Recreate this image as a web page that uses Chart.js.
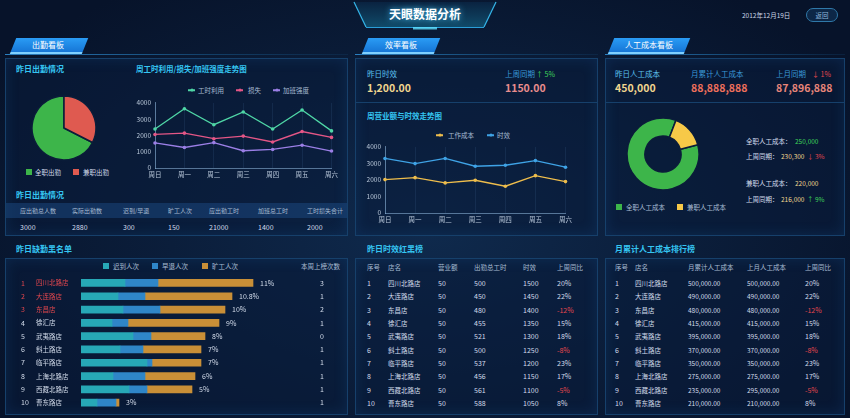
<!DOCTYPE html>
<html><head><meta charset="utf-8">
<script src="https://cdn.jsdelivr.net/npm/chart.js@4/dist/chart.umd.min.js"></script>
<style>
html,body{margin:0;padding:0;}
body{width:850px;height:418px;overflow:hidden;position:relative;font-family:'Noto Sans CJK SC','Noto Sans',sans-serif;background:#07132a;}
#bg{position:absolute;left:0;top:0;width:850px;height:418px;background:radial-gradient(ellipse 60% 70% at 50% 55%, #0f2a4d 0%, #0b1e3b 50%, #07132a 100%);}
.t{position:absolute;white-space:nowrap;transform:translateY(-50%);line-height:1;}
.panel{position:absolute;border:1px solid #16406b;background:rgba(9,28,58,0.55);box-shadow:inset 0 0 14px rgba(30,110,190,0.18);box-sizing:border-box;}
.tab{position:absolute;height:14px;background:linear-gradient(180deg,#2a9cf5,#1676d6);transform:skewX(-22deg);border-bottom:2px solid #7fd0ff;}
.tabtxt{position:absolute;color:#fff;font-size:8px;transform:translate(-50%,-50%);white-space:nowrap;line-height:1;}
.secline{position:absolute;height:1px;background:linear-gradient(90deg,#2a7fc0,#123e66 60%,rgba(18,62,102,0.3));}
canvas{position:absolute;}
.sq{position:absolute;width:6px;height:6px;transform:translateY(-50%);}
.lg{position:absolute;width:7px;height:1.5px;transform:translateY(-50%);}
.dot{position:absolute;width:3px;height:3px;border-radius:50%;transform:translate(-50%,-50%);}
</style>
</head><body>
<div id="bg"></div>
<svg width="850" height="60" style="position:absolute;left:0;top:0">
<defs>
<linearGradient id="gl" x1="0" x2="1"><stop offset="0" stop-color="#1f8fd0" stop-opacity="0"/><stop offset="1" stop-color="#3cc4f5"/></linearGradient>
<linearGradient id="gr" x1="0" x2="1"><stop offset="0" stop-color="#3cc4f5"/><stop offset="1" stop-color="#1f8fd0" stop-opacity="0"/></linearGradient>
<linearGradient id="gt" x1="0" y1="0" x2="0" y2="1"><stop offset="0" stop-color="#0a2442"/><stop offset="1" stop-color="#11506f"/></linearGradient>
</defs>
<line x1="10" y1="27.5" x2="360" y2="27.5" stroke="url(#gl)" stroke-width="1.5"/>
<line x1="490" y1="27.5" x2="840" y2="27.5" stroke="url(#gr)" stroke-width="1.5"/>
<polygon points="354,2 366,27 484,27 496,2" fill="url(#gt)" opacity="0.9"/>
<line x1="354" y1="2" x2="366" y2="27" stroke="#35b6ea" stroke-width="1.2"/>
<line x1="496" y1="2" x2="484" y2="27" stroke="#35b6ea" stroke-width="1.2"/>
<line x1="366" y1="27.5" x2="484" y2="27.5" stroke="#2a9ed8" stroke-width="1"/>
<rect x="413" y="27" width="24" height="2.5" fill="#5fe0ff" opacity="0.8"/>
</svg>
<div class="t" style="left:425px;top:14px;transform:translate(-50%,-50%);color:#fff;font-size:12px;font-weight:bold;text-shadow:0 0 6px #4cc8ff;">天眼数据分析</div>
<div class="t" style="left:742px;top:15px;color:#c9d6e6;font-size:6.5px;">2012年12月19日</div>
<div style="position:absolute;left:806px;top:8px;width:32px;height:14px;border:1px solid #2f78a8;border-radius:8px;box-sizing:border-box;background:rgba(20,60,100,0.5);"></div>
<div class="t" style="left:822px;top:15px;transform:translate(-50%,-50%);color:#8fb8dc;font-size:6.5px;">返回</div>

<!-- tabs -->
<div class="tab" style="left:13px;top:38px;width:72px;"></div>
<div class="tabtxt" style="left:48px;top:45px;">出勤看板</div>
<div class="secline" style="left:5px;top:54px;width:343px;"></div>
<div class="tab" style="left:365px;top:38px;width:72px;"></div>
<div class="tabtxt" style="left:401px;top:45px;">效率看板</div>
<div class="secline" style="left:355px;top:54px;width:243px;"></div>
<div class="tab" style="left:611px;top:38px;width:76px;"></div>
<div class="tabtxt" style="left:649px;top:45px;">人工成本看板</div>
<div class="secline" style="left:605px;top:54px;width:240px;"></div>

<!-- panels -->
<div class="panel" style="left:5px;top:58px;width:343px;height:178px;"></div>
<div class="panel" style="left:5px;top:258px;width:343px;height:157px;"></div>
<div class="panel" style="left:355px;top:58px;width:243px;height:178px;"></div>
<div class="panel" style="left:355px;top:258px;width:243px;height:157px;"></div>
<div class="panel" style="left:605px;top:58px;width:240px;height:178px;"></div>
<div class="panel" style="left:605px;top:258px;width:240px;height:157px;"></div>
<div style="position:absolute;left:356px;top:102px;width:241px;height:1px;background:#16406b;"></div>
<div style="position:absolute;left:606px;top:102px;width:238px;height:1px;background:#16406b;"></div>
<div style="position:absolute;left:6px;top:203px;width:341px;height:15px;background:rgba(30,80,140,0.45);"></div>

<div id="txt"></div>

<canvas id="pie" width="70" height="70" style="left:29px;top:93px;"></canvas>
<canvas id="line1" width="211" height="87" style="left:130px;top:95px;"></canvas>
<canvas id="line2" width="220" height="88" style="left:355px;top:139px;"></canvas>
<canvas id="donut" width="76" height="76" style="left:625px;top:116px;"></canvas>
<canvas id="bars" width="343" height="157" style="left:5px;top:258px;"></canvas>

<script>
// ---------- data ----------
const days = ['周日','周一','周二','周三','周四','周五','周六'];
const hourUse = [2400,3640,2660,3440,2400,3560,2280];
const hourLoss = [2060,2140,1800,1960,1600,2240,1880];
const overtime = [1540,1260,1560,1060,1140,1400,1040];
const workCost = [2020,2140,1820,1980,1620,2260,1900];
const timeEff = [3300,2990,3300,2830,2890,3170,2770];
const attendLabels = ['全职出勤','兼职出勤'];
const attendShare = [67.5,32.5];
const costLabels = ['全职人工成本','兼职人工成本'];
const costShare = [85,15];
const stores = ['四川北路店','大连路店','东昌店','徐汇店','武夷路店','斜土路店','临平路店','上海北路店','西藏北路店','曹东路店'];
const lateCounts = [22,18.5,21,15.5,26,19.5,33,16,24,8];
const earlyCounts = [16.5,13.5,18.5,8,9,11.5,2.5,16,9,9.5];
const absentCounts = [47.5,43.5,32.5,45.5,27,29,24.5,25,22.5,1.5];
const absentRates = ['11%','10.8%','10%','9%','8%','7%','7%','6%','5%','3%'];
const weekTimes = [3,1,2,1,0,1,1,1,1,1];
const attendHeads = ['应出勤总人数','实际出勤数','迟到/早退','旷工人次','应出勤工时','加班总工时','工时损失合计'];
const attendValues = ['3000','2880','300','150','21000','1400','2000'];
const effHeads = ['序号','店名','营业额','出勤总工时','时效','上周同比'];
const effRevenue = [50,50,50,50,50,50,50,50,50,50];
const effHours = [500,450,480,455,521,500,537,456,561,588];
const effTime = [1500,1450,1400,1350,1300,1250,1200,1150,1100,1050];
const effYoY = ['20%','22%','-12%','15%','18%','-8%','23%','17%','-5%','8%'];
const costHeads = ['序号','店名','月累计人工成本','上月人工成本','上周同比'];
const costMonth = ['500,000.00','490,000.00','480,000.00','415,000.00','395,000.00','370,000.00','350,000.00','275,000.00','235,000.00','210,000.00'];
const costLastMonth = ['500,000.00','490,000.00','480,000.00','415,000.00','395,000.00','370,000.00','350,000.00','275,000.00','295,000.00','210,000.00'];
const costYoY = ['20%','22%','-12%','15%','18%','-8%','23%','17%','-5%','8%'];

// ---------- text helpers ----------
const box = document.getElementById('txt');
function T(x,y,s,color,size,extra){
  const d=document.createElement('div');d.className='t';
  d.style.left=x+'px';d.style.top=y+'px';d.style.color=color;d.style.fontSize=size+'px';
  if(extra) d.style.cssText+=extra;
  d.textContent=s;box.appendChild(d);return d;
}
function SQ(x,y,c){const d=document.createElement('div');d.className='sq';d.style.left=x+'px';d.style.top=y+'px';d.style.background=c;box.appendChild(d);}
function LG(x,y,c){const d=document.createElement('div');d.className='lg';d.style.left=x+'px';d.style.top=y+'px';d.style.background=c;box.appendChild(d);
  const p=document.createElement('div');p.className='dot';p.style.left=(x+3.5)+'px';p.style.top=y+'px';p.style.background=c;box.appendChild(p);}
const CY='#35c5f2', TXT='#d3dceb', HD='#a8bcd2', RED='#e4474e', GRN='#3fd35a';
const TF=';font-weight:bold;';

// section titles
T(16,69,'昨日出勤情况',CY,8,TF);
T(136,69,'周工时利用/损失/加班强度走势图',CY,7.5,TF);
T(16,195,'昨日出勤情况',CY,8,TF);
T(16,249,'昨日缺勤黑名单',CY,8,TF);
T(367,116,'周营业额与时效走势图',CY,7.5,TF);
T(367,249,'昨日时效红黑榜',CY,8,TF);
T(615,249,'月累计人工成本排行榜',CY,8,TF);

// pie legend
SQ(26,172,'#3db54a');T(35,172,attendLabels[0],TXT,6.5);
SQ(73,172,'#df5a50');T(83,172,attendLabels[1],TXT,6.5);
// line legends
const l1=[[188,'工时利用','#4fd6a6',198],[236,'损失','#e45686',248],[273,'加班强度','#9b7fe6',283]];
l1.forEach(a=>{LG(a[0],90,a[2]);T(a[3],90,a[1],HD,6.5);});
const l2=[[436,'工作成本','#eebd4c',448],[487,'时效','#3fa3e6',497]];
l2.forEach(a=>{LG(a[0],135,a[2]);T(a[3],135,a[1],HD,6.5);});

// attendance table
const acx=[20,72,123,168,209,258,307];
attendHeads.forEach((h,i)=>T(acx[i],211,h,HD,6));
attendValues.forEach((v,i)=>T(acx[i],227,v,TXT,7));

// KPI middle
T(367,74,'昨日时效','#5cc2f2',7.5);
T(367,88,'1,200.00','#f1d68f',10.5,'font-weight:bold;');
T(505,74,'上周同期','#3a9ad8',7.5);
T(536,74,'↑ 5%',GRN,7);
T(505,88,'1150.00','#e88d8d',10.5,'font-weight:bold;');
// KPI right
T(615,74,'昨日人工成本','#5cc2f2',7.5);
T(615,88,'450,000','#f1d68f',10.5,'font-weight:bold;');
T(691,74,'月累计人工成本','#3a9ad8',7.5);
T(691,88,'88,888,888','#f0705c',10.5,'font-weight:bold;');
T(776,74,'上月同期','#3a9ad8',7.5);
T(812,74,'↓ 1%',RED,7);
T(776,88,'87,896,888','#e8867a',10.5,'font-weight:bold;');
// donut side info
T(746,141,'全职人工成本：',TXT,6.5);T(795,141,'250,000',GRN,6.5);
T(746,156,'上周同期：',TXT,6.5);T(781,156,'230,300','#f1d68f',6.5);T(807,156,'↓ 3%',RED,6.5);
T(746,183,'兼职人工成本：',TXT,6.5);T(795,183,'220,000','#f1d68f',6.5);
T(746,199,'上周同期：',TXT,6.5);T(781,199,'216,000','#f1d68f',6.5);T(807,199,'↑ 9%',GRN,6.5);
SQ(616,207,'#3db54a');T(626,207,costLabels[0],HD,6.5);
SQ(677,207,'#f7c948');T(687,207,costLabels[1],HD,6.5);

// bar legend
SQ(103,266,'#27a8b6');T(113,266,'迟到人次',HD,6.5);
SQ(152,266,'#2f86c8');T(162,266,'早退人次',HD,6.5);
SQ(202,266,'#c98f37');T(212,266,'旷工人次',HD,6.5);
T(301,266,'本周上榜次数',HD,6.5);

// tables
const rowY=i=>283+i*13.33;
const ex=[367,388,438,474,523,557];
effHeads.forEach((h,i)=>T(ex[i],267,h,HD,6.5));
stores.forEach((s,i)=>{
  const y=rowY(i);
  T(ex[0],y,String(i+1),TXT,7);T(ex[1],y,s,TXT,6.5);T(ex[2],y,String(effRevenue[i]),TXT,7);
  T(ex[3],y,String(effHours[i]),TXT,7);T(ex[4],y,String(effTime[i]),TXT,7);
  T(ex[5],y,effYoY[i],effYoY[i][0]==='-'?RED:TXT,7);
});
const cx=[615,635,688,747,805];
costHeads.forEach((h,i)=>T(cx[i],267,h,HD,6.5));
stores.forEach((s,i)=>{
  const y=rowY(i);
  T(cx[0],y,String(i+1),TXT,7);T(cx[1],y,s,TXT,6.5);T(cx[2],y,costMonth[i],TXT,6.5);
  T(cx[3],y,costLastMonth[i],TXT,6.5);T(cx[4],y,costYoY[i],costYoY[i][0]==='-'?RED:TXT,7);
});

// ---------- charts ----------
const FONT="'Noto Sans CJK SC','Noto Sans',sans-serif";
Chart.defaults.font.family=FONT;
const base={responsive:false,animation:false,devicePixelRatio:1,plugins:{legend:{display:false},tooltip:{enabled:false}}};

new Chart(document.getElementById('pie'),{type:'pie',
  data:{labels:attendLabels,datasets:[{data:attendShare,backgroundColor:['#3db54a','#df5a50'],borderColor:'#0b1d3a',borderWidth:1.5}]},
  options:Object.assign({},base,{radius:32,rotation:117})});

new Chart(document.getElementById('donut'),{type:'doughnut',
  data:{labels:costLabels,datasets:[{data:costShare,backgroundColor:['#3db54a','#f7c948'],borderColor:'#0b1d3a',borderWidth:1.5}]},
  options:Object.assign({},base,{radius:36,cutout:'50%',rotation:75})});

function lineChart(id,sets,yw){
  return new Chart(document.getElementById(id),{type:'line',
    data:{labels:days,datasets:sets.map(s=>({label:s[0],data:s[1],borderColor:s[2],backgroundColor:s[2],borderWidth:1.3,pointRadius:1.8,pointBorderWidth:0,tension:0}))},
    options:Object.assign({},base,{
      layout:{padding:{top:7,right:8,left:0,bottom:0}},
      scales:{
        x:{grid:{color:'rgba(90,140,190,0.13)',drawTicks:false},border:{color:'rgba(150,190,225,0.55)'},
           ticks:{color:'#b9c8da',font:{size:6.5},padding:3,maxRotation:0,autoSkip:false},afterFit:s=>{s.height=14;}},
        y:{min:0,max:4000,ticks:{stepSize:1000,color:'#b9c8da',font:{size:6.5},padding:4,callback:v=>String(v)},
           grid:{display:false,drawTicks:false},border:{color:'rgba(150,190,225,0.55)'},afterFit:s=>{s.width=yw;}}
      }})});
}
lineChart('line1',[['工时利用',hourUse,'#4fd6a6'],['损失',hourLoss,'#e45686'],['加班强度',overtime,'#9b7fe6']],25);
lineChart('line2',[['工作成本',workCost,'#eebd4c'],['时效',timeEff,'#3fa3e6']],30);

const CL=5;
const rowLabels={id:'rowLabels',afterDatasetsDraw(chart){
  const {ctx,scales:{x,y}}=chart;ctx.save();ctx.textBaseline='middle';
  stores.forEach((name,i)=>{
    const py=y.getPixelForValue(i);
    const c=i<3?RED:TXT;
    ctx.fillStyle=c;ctx.textAlign='left';
    ctx.font="7px "+FONT;ctx.fillText(String(i+1),21-CL,py);
    ctx.font="6.5px "+FONT;ctx.fillText(name,36-CL,py);
    const end=x.getPixelForValue(lateCounts[i]+earlyCounts[i]+absentCounts[i]);
    ctx.fillStyle=TXT;ctx.font="7px "+FONT;ctx.fillText(absentRates[i],end+7,py);
    ctx.textAlign='center';ctx.fillText(String(weekTimes[i]),322-CL,py);
  });ctx.restore();}};
new Chart(document.getElementById('bars'),{type:'bar',
  data:{labels:stores,datasets:[
    {label:'迟到人次',data:lateCounts,backgroundColor:'#27a8b6'},
    {label:'早退人次',data:earlyCounts,backgroundColor:'#2f86c8'},
    {label:'旷工人次',data:absentCounts,backgroundColor:'#c98f37'}]},
  options:Object.assign({},base,{indexAxis:'y',barThickness:7,
    layout:{padding:{left:76,right:57,top:18.3,bottom:5.7}},
    scales:{x:{stacked:true,min:0,max:105,display:false},y:{stacked:true,display:false}}}),
  plugins:[rowLabels]});
</script>
</body></html>
